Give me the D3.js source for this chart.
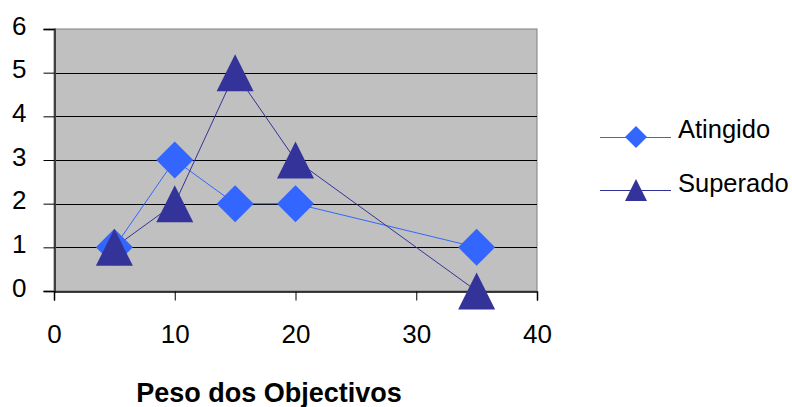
<!DOCTYPE html>
<html>
<head>
<meta charset="utf-8">
<script src="https://cdn.jsdelivr.net/npm/d3@7"></script>
<style>
  html, body { margin: 0; padding: 0; background: #fff; }
  svg { display: block; }
  text { font-family: Arial, "Liberation Sans", sans-serif; fill: #000; }
</style>
</head>
<body>
<svg id="chart" width="792" height="407"></svg>
<script>
// Data
const xValues = [5, 10, 15, 20, 35];
const atingido = [1, 3, 2, 2, 1];
const superado = [1, 2, 5, 3, 0];
const seriesNames = ["Atingido", "Superado"];
const xTicks = [0, 10, 20, 30, 40];
const yTicks = [0, 1, 2, 3, 4, 5, 6];
const xTitle = "Peso dos Objectivos";

const colors = { Atingido: "#3366FF", Superado: "#333399" };

const svg = d3.select("#chart");
const plot = { left: 54, right: 537, top: 29, bottom: 291 };

const x = d3.scaleLinear().domain([0, 40]).range([plot.left, plot.right]);
const y = d3.scaleLinear().domain([0, 6]).range([plot.bottom, plot.top]);

// Plot background
svg.append("rect")
  .attr("x", plot.left).attr("y", plot.top)
  .attr("width", plot.right - plot.left).attr("height", plot.bottom - plot.top)
  .attr("fill", "#C0C0C0")
  .attr("stroke", "#808080").attr("stroke-width", 1);

// Horizontal gridlines
svg.append("g").selectAll("line")
  .data(yTicks.filter(d => d > 0 && d < 6))
  .join("line")
  .attr("x1", plot.left).attr("x2", plot.right)
  .attr("y1", d => Math.round(y(d)) + 0.5).attr("y2", d => Math.round(y(d)) + 0.5)
  .attr("stroke", "#000").attr("stroke-width", 1);

// Y axis
const yAxis = svg.append("g")
  .attr("transform", `translate(${plot.left + 0.5},0)`)
  .call(d3.axisLeft(y).tickValues(yTicks).tickSize(11).tickPadding(17).tickFormat(d3.format("d")));
yAxis.select(".domain").attr("stroke", "#404040").attr("stroke-width", 2);
yAxis.selectAll(".tick line").attr("stroke", "#000");
yAxis.selectAll(".tick text")
  .attr("font-size", 26).attr("font-family", "Arial, 'Liberation Sans', sans-serif")
  .attr("dy", "0.2em").attr("fill", "#000");

// X axis
const xAxis = svg.append("g")
  .attr("transform", `translate(0,${plot.bottom + 0.5})`)
  .call(d3.axisBottom(x).tickValues(xTicks).tickSize(9).tickPadding(24).tickFormat(d3.format("d")));
xAxis.select(".domain").attr("stroke", "#000").attr("stroke-width", 1.5);
xAxis.selectAll(".tick line").attr("stroke", "#000");
xAxis.selectAll(".tick text")
  .attr("font-size", 26).attr("font-family", "Arial, 'Liberation Sans', sans-serif")
  .attr("dy", "0.71em").attr("fill", "#000");

// Axis title
svg.append("text")
  .attr("x", 269).attr("y", 402)
  .attr("text-anchor", "middle")
  .attr("font-size", 27).attr("font-weight", "bold")
  .text(xTitle);

// Marker shapes
function diamondPath(s) {
  const h = s / 2;
  return `M0,${-h}L${h},0L0,${h}L${-h},0Z`;
}
function trianglePath(s) {
  const h = s / 2;
  return `M0,${-h}L${h},${h}L${-h},${h}Z`;
}

const series = [
  { name: "Atingido", values: atingido, shape: diamondPath },
  { name: "Superado", values: superado, shape: trianglePath }
];

const line = d3.line().x(d => x(d[0])).y(d => y(d[1]));

// Lines first, markers on top
series.forEach(s => {
  svg.append("path")
    .datum(xValues.map((xv, i) => [xv, s.values[i]]))
    .attr("d", line)
    .attr("fill", "none")
    .attr("stroke", colors[s.name]).attr("stroke-width", 1);
});
series.forEach(s => {
  svg.append("g").selectAll("path")
    .data(xValues.map((xv, i) => [xv, s.values[i]]))
    .join("path")
    .attr("transform", d => `translate(${x(d[0])},${y(d[1])})`)
    .attr("d", s.shape(37))
    .attr("fill", colors[s.name]);
});

// Legend
const legend = svg.append("g");
const legendY = [137, 190];
series.forEach((s, i) => {
  const ly = legendY[i];
  legend.append("line")
    .attr("x1", 600).attr("x2", 671)
    .attr("y1", ly + 0.5).attr("y2", ly + 0.5)
    .attr("stroke", colors[s.name]).attr("stroke-width", 1);
  legend.append("path")
    .attr("transform", `translate(636,${ly})`)
    .attr("d", s.shape(22))
    .attr("fill", colors[s.name]);
  legend.append("text")
    .attr("x", 678).attr("y", ly + (i === 0 ? 1 : 2))
    .attr("font-size", 25.5)
    .text(s.name);
});
</script>
</body>
</html>
